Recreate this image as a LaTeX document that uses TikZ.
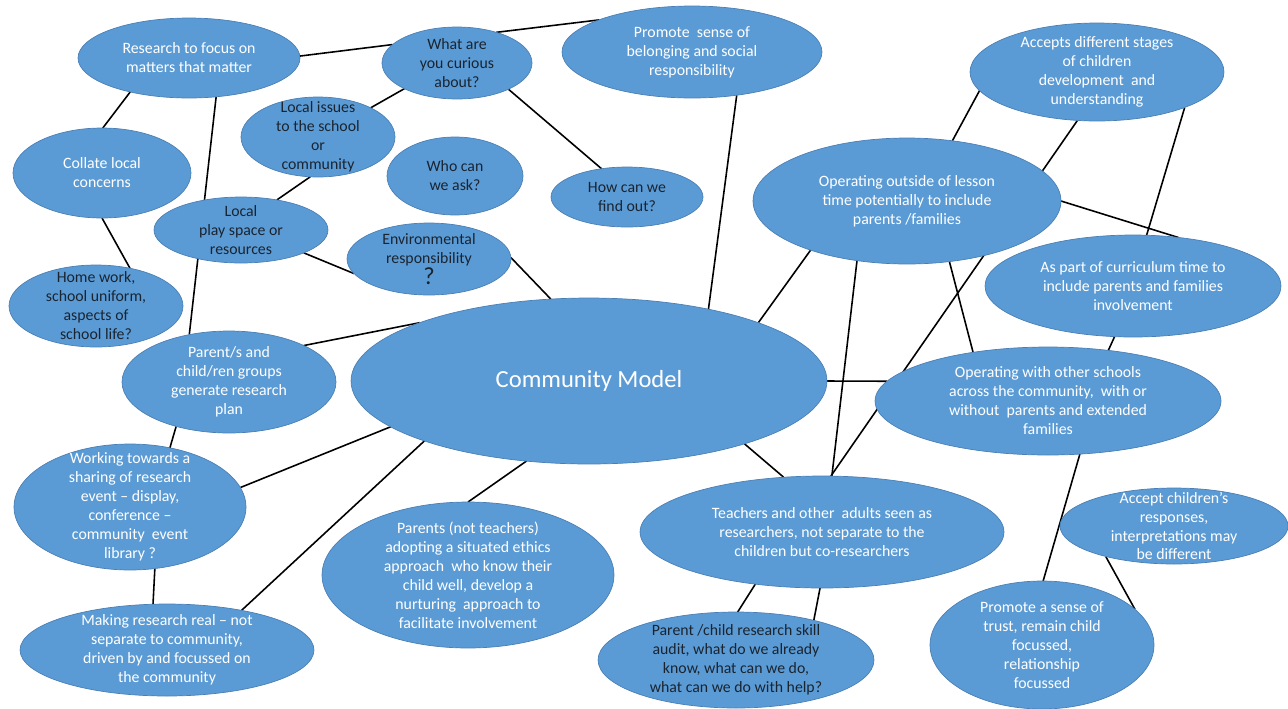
\documentclass[tikz,border=0pt]{standalone}
\usepackage{fontspec}
\setmainfont{Carlito}
\usepackage{tikz}
\usetikzlibrary{shapes.geometric,backgrounds}
\definecolor{cmblue}{HTML}{5B9BD5}
\definecolor{cmedge}{HTML}{4A7FB5}
\definecolor{cmink}{HTML}{1A2430}
\begin{document}
\begin{tikzpicture}[
  x=0.02cm, y=-0.02cm,
  bub/.style={ellipse, fill=cmblue, draw=cmedge, line width=0.4pt,
    inner sep=0pt, outer sep=0pt},
  wt/.style={align=center, text=white, font=\fontsize{9}{10.8}\selectfont},
  dk/.style={align=center, text=cmink, font=\fontsize{9}{10.8}\selectfont},
  link/.style={line width=0.9pt, black},
  ]
  \useasboundingbox (0,0) rectangle (1288,708);
  % top left cluster
  \node[bub, minimum width=4.44cm, minimum height=1.6cm,
    label={[wt]center:{Research to focus on\\matters that matter}}] (research) at (189,58) {};
  \node[bub, minimum width=3cm, minimum height=1.44cm,
    label={[dk]center:{What are\\you curious\\about?}}] (curious) at (457,63) {};
  \node[bub, minimum width=5.2cm, minimum height=1.84cm,
    label={[wt]center:{Promote~ sense of\\belonging and social\\responsibility}}] (belong) at (692,52) {};
  \node[bub, minimum width=3.08cm, minimum height=1.6cm,
    label={[dk]center:{Local issues\\to the school\\or\\community}}] (localiss) at (318,137) {};
  \node[bub, minimum width=2.72cm, minimum height=1.56cm,
    label={[dk]center:{Who can\\we ask?}}] (whoask) at (455,176) {};
  \node[bub, minimum width=3.04cm, minimum height=1.2cm,
    label={[dk]center:{How can we\\find out?}}] (findout) at (627,197) {};
  \node[bub, minimum width=3.56cm, minimum height=1.8cm,
    label={[wt]center:{Collate local\\concerns}}] (collate) at (102,173) {};
  \node[bub, minimum width=3.48cm, minimum height=1.32cm,
    label={[dk]center:{Local\\play space or\\resources}}] (playsp) at (241,230) {};
  \node[bub, minimum width=3.28cm, minimum height=1.44cm,
    label={[dk]center:{Environmental\\responsibility\\{\fontsize{14}{12}\selectfont ?}}}] (envir) at (429,259) {};
  \node[bub, minimum width=3.48cm, minimum height=1.64cm,
    label={[dk]center:{Home work,\\school uniform,\\aspects of\\school life?}}] (homework) at (96,306) {};
  % right cluster
  \node[bub, minimum width=5.08cm, minimum height=1.96cm,
    label={[wt]center:{Accepts different stages\\of children\\development~ and\\understanding}}] (accepts) at (1097,72) {};
  \node[bub, minimum width=6.16cm, minimum height=2.52cm,
    label={[wt]center:{Operating outside of lesson\\time potentially to include\\parents /families}}] (outside) at (907,201) {};
  \node[bub, minimum width=5.92cm, minimum height=2.04cm,
    label={[wt]center:{As part of curriculum time to\\include parents and families\\involvement}}] (curric) at (1133,286) {};
  \node[bub, minimum width=6.92cm, minimum height=2.16cm,
    label={[wt]center:{Operating with other schools\\across the community,~ with or\\without~ parents and extended\\families}}] (others) at (1048,401) {};
  % centre
  \node[bub, minimum width=9.52cm, minimum height=3.32cm,
    label={[wt, font=\fontsize{14}{16}\selectfont]center:{Community Model}}] (model) at (589,381) {};
  % lower left
  \node[bub, minimum width=4.28cm, minimum height=2.04cm,
    label={[wt]center:{Parent/s and\\child/ren groups\\generate research\\plan}}] (groups) at (229,382) {};
  \node[bub, minimum width=4.64cm, minimum height=2.52cm,
    label={[wt]center:{Working towards a\\sharing of research\\event -- display,\\conference --\\community~ event\\library ?}}] (sharing) at (130,507) {};
  \node[bub, minimum width=5.88cm, minimum height=1.84cm,
    label={[wt]center:{Making research real -- not\\separate to community,\\driven by and focussed on\\the community}}] (real) at (167,650) {};
  \node[bub, minimum width=5.84cm, minimum height=2.92cm,
    label={[wt]center:{Parents (not teachers)\\adopting a situated ethics\\approach~ who know their\\child well, develop a\\nurturing~ approach to\\facilitate involvement}}] (parents) at (468,575) {};
  % lower right
  \node[bub, minimum width=7.28cm, minimum height=2.24cm,
    label={[wt]center:{Teachers and other~ adults seen as\\researchers, not separate to the\\children but co-researchers}}] (teachers) at (822,532) {};
  \node[bub, minimum width=5.52cm, minimum height=1.92cm,
    label={[dk]center:{Parent /child research skill\\audit, what do we already\\know, what can we do,\\what can we do with help?}}] (audit) at (736,660) {};
  \node[bub, minimum width=4.56cm, minimum height=1.52cm,
    label={[wt]center:{Accept children's\\responses,\\interpretations may\\be different}}] (respons) at (1174,526) {};
  \node[bub, minimum width=4.48cm, minimum height=2.56cm,
    label={[wt]center:{Promote a sense of\\trust, remain child\\focussed,\\relationship\\focussed}}] (trust) at (1042,645) {};

  \begin{scope}[on background layer]
    \draw[link] (research.1) -- (curious.164);
    \draw[link] (curious.38) -- (belong.161);
    \draw[link] (research.210) -- (collate.89);
    \draw[link] (research.-55) -- (groups.130);
    \draw[link] (curious.206) -- (localiss.29);
    \draw[link] (curious.-27) -- (findout.132);
    \draw[link] (localiss.259) -- (playsp.40);
    \draw[link] (collate.-90) -- (homework.48);
    \draw[link] (playsp.-20) -- (envir.191);
    \draw[link] (envir.1) -- (model.115);
    \draw[link] (groups.26) -- (model.161);
    \draw[link] (belong.-44) -- (model.31);
    \draw[link] (accepts.189) -- (outside.53);
    \draw[link] (accepts.248) -- (teachers.81);
    \draw[link] (outside.207) -- (model.19);
    \draw[link] (outside.230) -- (teachers.80);
    \draw[link] (outside.-55) -- (others.147);
    \draw[link] (outside.0) -- (curric.47);
    \draw[link] (accepts.-22) -- (curric.75);
    \draw[link] (model.0) -- (others.173);
    \draw[link] (curric.250) -- (others.40);
    \draw[link] (model.-22) -- (teachers.125);
    \draw[link] (teachers.218) -- (audit.88);
    \draw[link] (teachers.268) -- (audit.27);
    \draw[link] (others.-59) -- (trust.89);
    \draw[link] (respons.204) -- (trust.21);
    \draw[link] (groups.220) -- (sharing.56);
    \draw[link] (sharing.10) -- (model.193);
    \draw[link] (real.28) -- (model.200);
    \draw[link] (sharing.-68) -- (real.107);
    \draw[link] (parents.90) -- (model.232);
  \end{scope}
\end{tikzpicture}
\end{document}
